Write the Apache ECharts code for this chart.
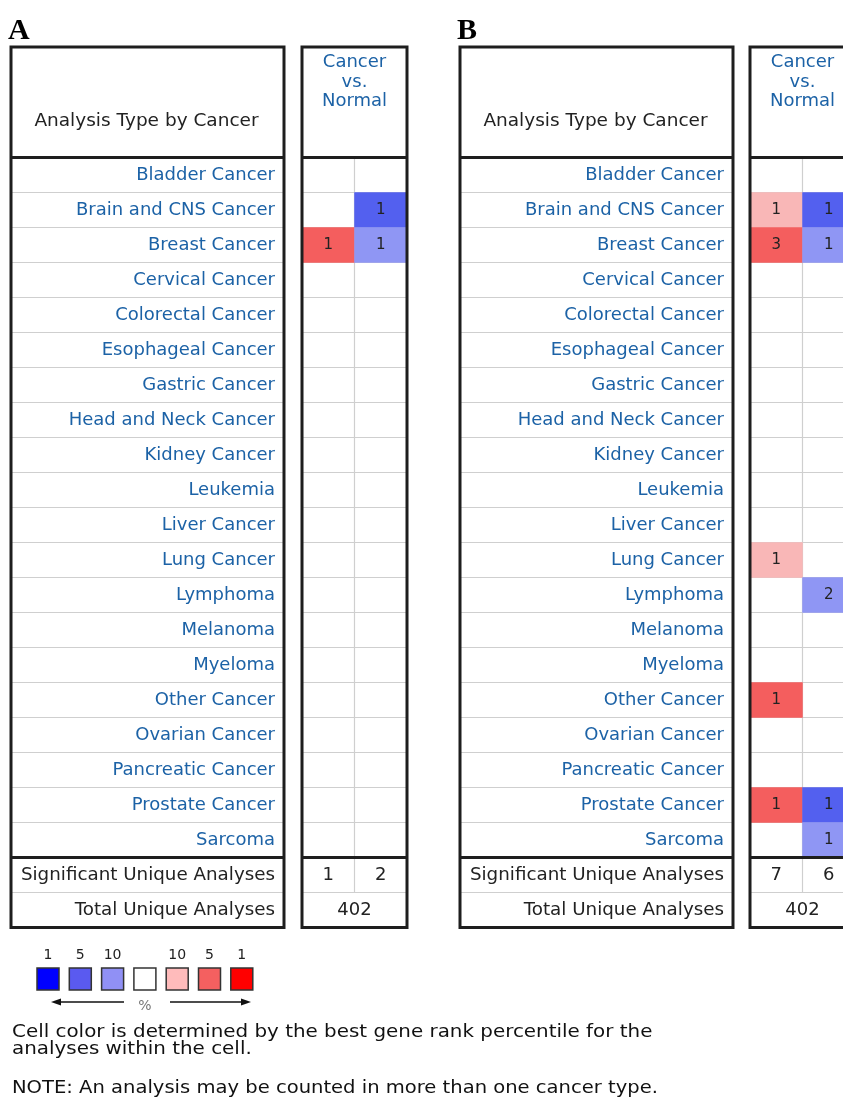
<!DOCTYPE html>
<html>
<head>
<meta charset="utf-8">
<script src="https://cdn.jsdelivr.net/npm/echarts@6/dist/echarts.min.js"></script>
<style>
  html, body { margin: 0; padding: 0; background: #fff; }
  #chart { width: 843px; height: 1098px; }
</style>
</head>
<body>
<div id="chart"></div>
<script>
// cancer types, top to bottom
var cancers = ['Bladder Cancer', 'Brain and CNS Cancer', 'Breast Cancer', 'Cervical Cancer',
  'Colorectal Cancer', 'Esophageal Cancer', 'Gastric Cancer', 'Head and Neck Cancer',
  'Kidney Cancer', 'Leukemia', 'Liver Cancer', 'Lung Cancer', 'Lymphoma', 'Melanoma',
  'Myeloma', 'Other Cancer', 'Ovarian Cancer', 'Pancreatic Cancer', 'Prostate Cancer', 'Sarcoma']
var columns = ['up', 'down']
var summaryRows = ['Significant Unique Analyses', 'Total Unique Analyses']

// [cancer index, column (0 = over, 1 = under), analyses, best rank percentile]
var cellsA = [[1, 1, 1, 5], [2, 0, 1, 5], [2, 1, 1, 10]]
var cellsB = [[1, 0, 1, 10], [1, 1, 1, 5], [2, 0, 3, 5], [2, 1, 1, 10], [11, 0, 1, 10],
  [12, 1, 2, 10], [15, 0, 1, 5], [18, 0, 1, 5], [18, 1, 1, 5], [19, 1, 1, 10]]
var significantA = [1, 2]
var significantB = [7, 6]
var totalA = 402
var totalB = 402

// legend
var legendTicks = ['1', '5', '10', '', '10', '5', '1']

var palette = {
  up: { 1: '#ff0000', 5: '#f45e5e', 10: '#f9b7b7' },
  down: { 1: '#0000ff', 5: '#5360ef', 10: '#8f96f4' }
}
var legendColors = ['#0000ff', '#5a5af0', '#9090f5', '#ffffff', '#ffbbbb', '#f46060', '#ff0000']

var FONT = 'DejaVu Sans'
var BLUE = '#1c62a6'
var INK = '#222'

var grid = [], xAxis = [], yAxis = [], series = [], graphic = []

function hiddenAxis (extra) {
  return Object.assign({
    axisLine: { show: false }, axisTick: { show: false }, axisLabel: { show: false },
    splitLine: { show: false }
  }, extra)
}

function addPanel (p) {
  var top = 157.5, rowH = 35
  var bodyBottom = top + rowH * cancers.length
  var gi = grid.length

  // label box: row separators only
  grid.push({ left: p.l0, top: top, width: p.l1 - p.l0, height: rowH * 22, outerBoundsMode: 'none' })
  xAxis.push(hiddenAxis({ gridIndex: gi, type: 'value', min: 0, max: 1 }))
  yAxis.push(hiddenAxis({ gridIndex: gi, type: 'category', inverse: true,
    data: cancers.concat(summaryRows),
    splitLine: { show: true, lineStyle: { color: '#cfcfcf', width: 1.2 } } }))

  // cancer vs normal cells
  grid.push({ left: p.r0, top: top, width: p.r1 - p.r0, height: rowH * cancers.length, outerBoundsMode: 'none' })
  xAxis.push(hiddenAxis({ gridIndex: gi + 1, type: 'category', data: columns,
    splitLine: { show: true, lineStyle: { color: '#cfcfcf', width: 1.2 } } }))
  yAxis.push(hiddenAxis({ gridIndex: gi + 1, type: 'category', inverse: true, data: cancers,
    axisLabel: { show: true, margin: p.r0 - p.lab, color: BLUE, fontFamily: FONT, fontSize: 18 },
    splitLine: { show: true, lineStyle: { color: '#cfcfcf', width: 1.2 } } }))
  series.push({
    type: 'heatmap', xAxisIndex: gi + 1, yAxisIndex: gi + 1,
    data: p.cells.map(function (c) {
      return { value: [c[1], c[0], c[2]], itemStyle: { color: palette[columns[c[1]]][c[3]] } }
    }),
    label: { show: true, color: INK, fontFamily: FONT, fontSize: 15,
      formatter: function (d) { return d.value[2] } },
    emphasis: { disabled: true }
  })

  // significant unique analyses
  grid.push({ left: p.r0, top: bodyBottom, width: p.r1 - p.r0, height: rowH, outerBoundsMode: 'none' })
  xAxis.push(hiddenAxis({ gridIndex: gi + 2, type: 'category', data: columns,
    splitLine: { show: true, lineStyle: { color: '#cfcfcf', width: 1.2 } } }))
  yAxis.push(hiddenAxis({ gridIndex: gi + 2, type: 'category', data: [summaryRows[0]],
    axisLabel: { show: true, margin: p.r0 - p.lab, color: INK, fontFamily: FONT, fontSize: 18.3 },
    splitLine: { show: true, lineStyle: { color: '#cfcfcf', width: 1.2 } } }))
  series.push({
    type: 'heatmap', xAxisIndex: gi + 2, yAxisIndex: gi + 2,
    data: p.sig.map(function (v, i) { return [i, 0, v] }),
    itemStyle: { color: 'rgba(255,255,255,0)' },
    label: { show: true, color: INK, fontFamily: FONT, fontSize: 18,
      formatter: function (d) { return d.value[2] } },
    emphasis: { disabled: true }
  })

  // total unique analyses
  grid.push({ left: p.r0, top: bodyBottom + rowH, width: p.r1 - p.r0, height: rowH, outerBoundsMode: 'none' })
  xAxis.push(hiddenAxis({ gridIndex: gi + 3, type: 'category', data: ['all'] }))
  yAxis.push(hiddenAxis({ gridIndex: gi + 3, type: 'category', data: [summaryRows[1]],
    axisLabel: { show: true, margin: p.r0 - p.lab, color: INK, fontFamily: FONT, fontSize: 18.3 } }))
  series.push({
    type: 'heatmap', xAxisIndex: gi + 3, yAxisIndex: gi + 3,
    data: [[0, 0, p.total]],
    itemStyle: { color: 'rgba(255,255,255,0)' },
    label: { show: true, color: INK, fontFamily: FONT, fontSize: 18,
      formatter: function (d) { return d.value[2] } },
    emphasis: { disabled: true }
  })

  // frames and header texts
  var boxTop = 47, boxBottom = bodyBottom + rowH * 2
  var frame = { stroke: '#1e1e1e', lineWidth: 3, fill: null }
  ;[[p.l0, p.l1], [p.r0, p.r1]].forEach(function (b) {
    graphic.push({ type: 'rect', z: 100, shape: { x: b[0], y: boxTop, width: b[1] - b[0], height: boxBottom - boxTop }, style: frame })
    graphic.push({ type: 'line', z: 100, shape: { x1: b[0], y1: top, x2: b[1], y2: top }, style: frame })
    graphic.push({ type: 'line', z: 100, shape: { x1: b[0], y1: bodyBottom, x2: b[1], y2: bodyBottom }, style: frame })
  })
  graphic.push({ type: 'text', z: 100, style: { text: 'Analysis Type by Cancer', x: (p.l0 + p.l1) / 2 - 1, y: 121,
    textAlign: 'center', textVerticalAlign: 'middle', fill: INK, font: '18.5px "DejaVu Sans"' } })
  graphic.push({ type: 'text', z: 100, style: { text: 'Cancer\nvs.\nNormal', x: p.r0 + 52.5, y: 53,
    textAlign: 'center', fill: BLUE, font: '18px "DejaVu Sans"', lineHeight: 19.5 } })
  graphic.push({ type: 'text', z: 100, style: { text: p.tag, x: p.l0 - 3, y: 31,
    textAlign: 'left', textVerticalAlign: 'middle', fill: '#000', font: 'bold 30px "Liberation Serif"' } })
}

addPanel({ tag: 'A', l0: 11, l1: 284, lab: 275, r0: 302, r1: 407, cells: cellsA, sig: significantA, total: totalA })
addPanel({ tag: 'B', l0: 460, l1: 733, lab: 724, r0: 750, r1: 855, cells: cellsB, sig: significantB, total: totalB })

// colour key
legendTicks.forEach(function (t, i) {
  var cx = 48 + i * 32.3
  graphic.push({ type: 'rect', z: 100, shape: { x: cx - 11, y: 968, width: 22, height: 22 },
    style: { fill: legendColors[i], stroke: '#333', lineWidth: 1.5 } })
  if (t) {
    graphic.push({ type: 'text', z: 100, style: { text: t, x: cx, y: 955, textAlign: 'center',
      textVerticalAlign: 'middle', fill: INK, font: '14px "DejaVu Sans"' } })
  }
})
var arrow = { stroke: '#111', lineWidth: 1.5 }
graphic.push({ type: 'line', z: 100, shape: { x1: 58, y1: 1002, x2: 124, y2: 1002 }, style: arrow })
graphic.push({ type: 'polygon', z: 100, shape: { points: [[51, 1002], [61, 998.5], [61, 1005.5]] }, style: { fill: '#111' } })
graphic.push({ type: 'line', z: 100, shape: { x1: 170, y1: 1002, x2: 244, y2: 1002 }, style: arrow })
graphic.push({ type: 'polygon', z: 100, shape: { points: [[251, 1002], [241, 998.5], [241, 1005.5]] }, style: { fill: '#111' } })
graphic.push({ type: 'text', z: 100, style: { text: '%', x: 145, y: 1006, textAlign: 'center',
  textVerticalAlign: 'middle', fill: '#777', font: '14px "DejaVu Sans"' } })

// notes (the original face is wide-set, so stretch a little horizontally)
graphic.push({ type: 'text', z: 100, x: 12, y: 1024.5, scaleX: 1.17, style: {
  text: 'Cell color is determined by the best gene rank percentile for the\nanalyses within the cell.',
  x: 0, y: 0, fill: '#111', font: '17px "DejaVu Sans"', lineHeight: 16.5 } })
graphic.push({ type: 'text', z: 100, x: 12, y: 1089, scaleX: 1.15, style: {
  text: 'NOTE: An analysis may be counted in more than one cancer type.',
  x: 0, y: 0, textVerticalAlign: 'middle', fill: '#111', font: '17px "DejaVu Sans"' } })

var chart = echarts.init(document.getElementById('chart'))
chart.setOption({
  animation: false,
  grid: grid,
  xAxis: xAxis,
  yAxis: yAxis,
  series: series,
  graphic: graphic
})
</script>
</body>
</html>
